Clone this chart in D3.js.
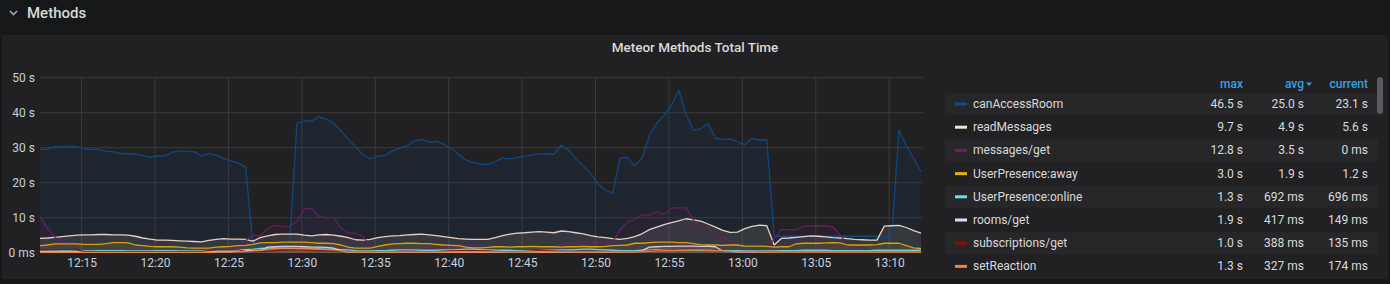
<!DOCTYPE html>
<html>
<head>
<meta charset="utf-8">
<script src="https://cdn.jsdelivr.net/npm/d3@7"></script>
<style>
  html, body { margin: 0; padding: 0; background: #161719; }
  svg { display: block; font-family: Roboto, "Noto Sans", sans-serif; }
</style>
</head>
<body>
<div id="chart"></div>
<script>
const width = 1390;
const height = 284;

// samples every 30 s, starting 12:12:10
const startTime = "12:12:10";
const stepSeconds = 30;

const seriesNames = ["canAccessRoom", "readMessages", "messages/get", "UserPresence:away",
    "UserPresence:online", "rooms/get", "subscriptions/get", "setReaction"];
const seriesColors = ["#0f4a8a", "#F9E2D2", "#6D1F62", "#E5AC0E", "#70DBED", "#DEDAF7", "#890F02", "#EF843C"];

const canAccessRoom = [
    29.5, 29.6, 30.3, 30.2, 30.4, 30.3, 29.7, 29.5, 29.5, 29.0,
    28.8, 28.3, 28.4, 28.2, 27.8, 27.3, 27.7, 27.6, 28.7, 29.0,
    29.0, 28.8, 27.6, 28.4, 27.9, 26.9, 26.3, 25.6, 24.6, 2.4,
    2.4, 2.5, 2.5, 2.6, 2.6, 37.0, 37.7, 37.6, 38.9, 38.1,
    37.0, 34.8, 32.3, 30.3, 28.0, 26.8, 27.6, 27.8, 29.1, 29.9,
    30.6, 31.9, 32.4, 31.5, 31.8, 31.0, 29.8, 28.2, 26.5, 25.8,
    25.3, 25.2, 26.0, 27.0, 26.8, 27.2, 27.6, 27.9, 28.3, 28.2,
    28.2, 30.7, 29.3, 26.8, 24.8, 22.6, 19.8, 17.9, 17.0, 27.0,
    27.2, 24.8, 27.0, 33.5, 37.0, 39.2, 42.1, 46.5, 39.5, 35.0,
    35.4, 36.9, 32.7, 32.4, 32.5, 31.7, 30.9, 32.6, 32.2, 32.2,
    4.7, 4.7, 4.7, 4.7, 4.7, 4.7, 4.7, 4.7, 4.7, 4.7,
    4.7, 4.7, 4.7, 4.7, 4.7, 4.7, 4.7, 35.0, 30.6, 26.9, 23.1
];
const readMessages = [
    4.1, 4.2, 4.4, 4.6, 4.8, 5.0, 5.1, 5.1, 5.2, 5.2,
    5.1, 5.1, 5.0, 4.7, 4.2, 3.9, 3.6, 3.6, 3.5, 3.4,
    3.3, 3.2, 3.1, 3.5, 3.8, 4.0, 3.9, 3.9, 3.8, 3.3,
    4.3, 4.8, 5.2, 5.3, 5.3, 5.3, 5.0, 4.8, 5.1, 5.2,
    5.0, 4.7, 4.3, 3.7, 3.6, 3.8, 4.3, 4.6, 4.8, 4.9,
    5.1, 5.2, 5.3, 5.1, 4.9, 4.6, 4.3, 4.0, 3.9, 3.8,
    3.8, 3.8, 4.3, 4.9, 5.3, 5.6, 5.7, 5.9, 6.0, 5.9,
    5.7, 6.2, 6.0, 5.7, 5.4, 4.9, 4.5, 4.3, 4.0, 3.8,
    4.1, 4.6, 5.4, 6.6, 7.3, 8.0, 8.6, 9.1, 9.7, 9.4,
    9.0, 8.2, 7.3, 6.4, 5.8, 5.9, 6.9, 7.5, 7.9, 7.7,
    2.2, 4.1, 4.2, 4.4, 4.6, 4.8, 4.7, 4.5, 4.3, 4.2,
    4.0, 3.8, 3.7, 3.6, 3.6, 7.6, 7.7, 7.8, 7.2, 6.3, 5.6
];
const messagesGet = [
    10.3, 7.0, 4.5, 3.0, 2.9, 1.0, 0.5, 0.4, 0.4, 0.5,
    0.5, 0.4, 0.4, 0.5, 0.5, 0.4, 0.4, 0.5, 0.5, 0.4,
    0.4, 0.5, 0.5, 0.6, 0.6, 0.8, 1.0, 2.0, 3.5, 5.0,
    4.8, 7.0, 7.8, 7.5, 7.6, 8.9, 12.5, 12.7, 10.3, 10.0,
    10.0, 7.0, 5.7, 5.5, 4.6, 2.0, 0.5, 0.5, 0.6, 0.6,
    0.7, 0.8, 1.0, 1.2, 1.4, 1.6, 2.0, 2.2, 2.2, 2.2,
    2.2, 2.0, 1.8, 1.6, 1.5, 1.5, 1.6, 1.5, 1.5, 1.6,
    1.8, 2.2, 2.5, 2.8, 3.0, 3.0, 3.0, 3.0, 3.1, 6.5,
    8.8, 9.5, 10.8, 10.8, 11.7, 11.0, 12.8, 12.8, 12.8, 9.3,
    7.4, 7.2, 4.6, 4.5, 3.1, 2.5, 0.8, 0.7, 0.7, 0.7,
    4.0, 6.6, 6.6, 6.6, 7.6, 7.7, 7.7, 7.7, 7.4, 5.0,
    2.5, 1.5, 1.3, 0.3, 0.2, 0.2, 0.2, 0.2, 0.2, 0.2, 0
];
const userPresenceAway = [
    2.0, 2.2, 2.5, 2.5, 2.5, 2.5, 2.4, 2.4, 2.4, 2.6,
    2.9, 2.9, 2.8, 2.2, 2.0, 1.8, 1.7, 1.7, 1.7, 1.6,
    1.4, 1.3, 1.3, 1.3, 1.6, 1.7, 1.8, 2.0, 2.1, 2.4,
    2.8, 2.9, 2.9, 3.0, 3.0, 3.0, 3.0, 2.9, 2.7, 2.7,
    2.6, 2.2, 1.6, 1.3, 1.3, 1.3, 1.8, 2.2, 2.5, 2.6,
    2.7, 2.7, 2.6, 2.6, 2.4, 2.2, 2.1, 2.0, 1.6, 1.4,
    1.4, 1.5, 1.7, 1.7, 1.6, 1.7, 1.7, 1.8, 1.7, 1.7,
    1.7, 1.6, 1.7, 1.7, 1.8, 1.7, 1.7, 1.8, 2.0, 2.1,
    2.2, 2.7, 2.7, 2.9, 3.0, 3.0, 3.0, 2.9, 2.9, 2.6,
    2.3, 2.2, 2.2, 2.1, 2.2, 2.2, 1.9, 1.9, 1.9, 1.8,
    1.6, 1.7, 1.7, 2.5, 2.7, 2.7, 2.7, 2.8, 2.9, 2.8,
    2.2, 2.2, 2.2, 2.2, 2.3, 2.7, 2.7, 2.7, 2.0, 1.4, 1.2
];
const userPresenceOnline = [
    0.5, 0.5, 0.6, 0.6, 0.6, 0.5, 0.5, 0.5, 0.6, 0.6,
    0.6, 0.6, 0.5, 0.5, 0.5, 0.5, 0.6, 0.6, 0.6, 0.5,
    0.5, 0.5, 0.5, 0.6, 0.6, 0.6, 0.7, 0.8, 0.9, 1.0,
    1.2, 1.3, 1.3, 1.3, 1.2, 1.2, 1.2, 1.1, 1.1, 1.0,
    1.0, 0.9, 0.8, 0.6, 0.5, 0.5, 0.6, 0.6, 0.7, 0.8,
    0.8, 0.8, 0.7, 0.7, 0.7, 0.8, 0.8, 0.9, 1.0, 1.0,
    0.9, 0.8, 0.7, 0.7, 0.7, 0.6, 0.6, 0.6, 0.6, 0.7,
    0.7, 0.8, 0.8, 0.9, 1.0, 1.0, 0.9, 0.8, 0.7, 0.6,
    0.6, 0.6, 0.7, 0.7, 0.8, 0.8, 0.8, 0.9, 0.8, 0.8,
    0.7, 0.7, 0.6, 0.6, 0.6, 0.6, 0.5, 0.5, 0.5, 0.5,
    0.5, 0.6, 0.6, 0.6, 0.7, 0.7, 0.7, 0.7, 0.6, 0.6,
    0.6, 0.6, 0.6, 0.6, 0.7, 0.7, 0.7, 0.7, 0.7, 0.7, 0.7
];
const roomsGet = [
    0.2, 0.2, 0.2, 0.2, 0.2, 0.2, 0.2, 0.2, 0.2, 0.2,
    0.2, 0.2, 0.2, 0.2, 0.2, 0.2, 0.2, 0.2, 0.2, 0.2,
    0.2, 0.2, 0.2, 0.2, 0.3, 0.3, 0.4, 0.6, 0.6, 0.6,
    0.6, 1.6, 1.7, 1.8, 1.8, 1.8, 1.7, 1.6, 1.6, 1.5,
    1.3, 0.5, 0.2, 0.2, 0.2, 0.2, 0.2, 0.2, 0.2, 0.2,
    0.2, 0.2, 0.2, 0.2, 0.2, 0.2, 0.2, 0.2, 0.2, 0.2,
    0.2, 0.2, 0.2, 0.2, 0.3, 0.3, 0.3, 0.3, 0.2, 0.2,
    0.2, 0.2, 0.2, 0.2, 0.2, 0.2, 0.2, 0.2, 0.2, 0.2,
    0.2, 0.3, 0.6, 1.6, 1.7, 1.8, 1.8, 1.9, 1.9, 1.9,
    1.8, 1.8, 1.7, 0.4, 0.3, 0.2, 0.2, 0.2, 0.2, 0.2,
    0.2, 0.2, 0.2, 0.2, 0.2, 0.2, 0.2, 0.2, 0.2, 0.2,
    0.2, 0.2, 0.2, 0.2, 0.2, 0.2, 0.2, 0.2, 0.2, 0.2, 0.15
];
const subscriptionsGet = [
    0.8, 0.8, 0.8, 0.9, 0.9, 0.8, 0.3, 0.3, 0.3, 0.3,
    0.3, 0.3, 0.3, 0.3, 0.3, 0.3, 0.3, 0.3, 0.3, 0.3,
    0.3, 0.3, 0.4, 0.6, 0.8, 0.8, 0.9, 0.8, 0.4, 0.3,
    0.3, 0.4, 0.6, 0.7, 0.8, 0.8, 0.8, 0.7, 0.6, 0.5,
    0.5, 0.4, 0.3, 0.3, 0.3, 0.3, 0.3, 0.3, 0.3, 0.3,
    0.3, 0.3, 0.3, 0.3, 0.3, 0.4, 0.5, 0.6, 0.6, 0.6,
    0.6, 0.5, 0.4, 0.3, 0.3, 0.3, 0.4, 0.5, 0.6, 0.6,
    0.5, 0.4, 0.3, 0.3, 0.3, 0.3, 0.3, 0.3, 0.3, 0.3,
    0.3, 0.3, 0.4, 0.5, 0.6, 0.7, 0.8, 0.9, 1.0, 1.0,
    0.9, 0.8, 0.6, 0.4, 0.3, 0.3, 0.3, 0.3, 0.3, 0.3,
    0.2, 0.2, 0.2, 0.2, 0.2, 0.2, 0.2, 0.2, 0.2, 0.2,
    0.2, 0.2, 0.2, 0.2, 0.2, 0.2, 0.2, 0.2, 0.2, 0.2, 0.135
];
const setReaction = [
    0.1, 0.1, 0.1, 0.1, 0.1, 0.1, 0.1, 0.1, 0.1, 0.1,
    0.1, 0.1, 0.1, 0.1, 0.1, 0.1, 0.1, 0.1, 0.1, 0.1,
    0.1, 0.1, 0.1, 0.1, 0.2, 0.2, 0.2, 0.3, 0.4, 0.5,
    0.7, 1.0, 1.2, 1.3, 1.3, 1.2, 1.2, 1.1, 1.0, 0.9,
    0.8, 0.5, 0.2, 0.2, 0.2, 0.2, 0.2, 0.2, 0.2, 0.2,
    0.2, 0.2, 0.2, 0.2, 0.2, 0.2, 0.2, 0.2, 0.2, 0.2,
    0.2, 0.2, 0.2, 0.2, 0.2, 0.2, 0.2, 0.2, 0.2, 0.2,
    0.2, 0.2, 0.2, 0.2, 0.2, 0.2, 0.2, 0.2, 0.2, 0.2,
    0.2, 0.2, 0.3, 0.4, 0.5, 0.6, 0.6, 0.7, 0.7, 0.8,
    0.8, 0.7, 0.6, 0.5, 0.4, 0.3, 0.3, 0.3, 0.2, 0.2,
    0.2, 0.2, 0.2, 0.2, 0.2, 0.2, 0.2, 0.2, 0.2, 0.2,
    0.2, 0.2, 0.2, 0.2, 0.2, 0.2, 0.2, 0.2, 0.2, 0.2, 0.174
];
const seriesValues = [canAccessRoom, readMessages, messagesGet, userPresenceAway,
    userPresenceOnline, roomsGet, subscriptionsGet, setReaction];

const legendMax = ["46.5 s", "9.7 s", "12.8 s", "3.0 s", "1.3 s", "1.9 s", "1.0 s", "1.3 s"];
const legendAvg = ["25.0 s", "4.9 s", "3.5 s", "1.9 s", "692 ms", "417 ms", "388 ms", "327 ms"];
const legendCurrent = ["23.1 s", "5.6 s", "0 ms", "1.2 s", "696 ms", "149 ms", "135 ms", "174 ms"];
const legendHeaders = ["max", "avg", "current"];

const yTicks = [0, 10, 20, 30, 40, 50];

const parseTime = d3.timeParse("%H:%M:%S");
const t0 = parseTime(startTime);
const times = canAccessRoom.map((_, i) => d3.timeSecond.offset(t0, i * stepSeconds));

const svg = d3.select("#chart").append("svg")
    .attr("width", width)
    .attr("height", height);

// row header
svg.append("rect").attr("width", width).attr("height", height).attr("fill", "#161719");
svg.append("path")
    .attr("d", "M10,11 L13.5,14.5 L17,11")
    .attr("fill", "none").attr("stroke", "#9fa7b3").attr("stroke-width", 1.6);
svg.append("text")
    .attr("x", 27).attr("y", 17.5)
    .attr("fill", "#d8d9da").attr("font-size", 15).attr("font-weight", 500)
    .text("Methods");

// panel
svg.append("rect")
    .attr("x", 2).attr("y", 35).attr("width", 1386).attr("height", 244)
    .attr("fill", "#212124");
svg.append("text")
    .attr("x", 695).attr("y", 52)
    .attr("text-anchor", "middle")
    .attr("fill", "#d8d9da").attr("font-size", 13.5).attr("font-weight", 500)
    .text("Meteor Methods Total Time");

const plot = { left: 40, right: 921, gridRight: 923, top: 77.7, bottom: 252.7 };

const xScale = d3.scaleTime()
    .domain([t0, times[times.length - 1]])
    .range([plot.left, plot.right]);
const yScale = d3.scaleLinear()
    .domain([0, 50])
    .range([plot.bottom, plot.top]);

// grid
const xTicks = xScale.ticks(d3.timeMinute.every(5));
svg.append("g").selectAll("line").data(xTicks).join("line")
    .attr("x1", (d) => xScale(d)).attr("x2", (d) => xScale(d))
    .attr("y1", plot.top).attr("y2", plot.bottom)
    .attr("stroke", "#3a3a3d").attr("stroke-width", 1);
svg.append("g").selectAll("line").data(yTicks).join("line")
    .attr("x1", plot.left).attr("x2", plot.gridRight)
    .attr("y1", (d) => yScale(d)).attr("y2", (d) => yScale(d))
    .attr("stroke", "#3a3a3d").attr("stroke-width", 1);

// axes labels
const yAxis = svg.append("g")
    .attr("transform", `translate(${plot.left},0)`)
    .call(d3.axisLeft(yScale).tickValues(yTicks).tickSize(0).tickPadding(5)
        .tickFormat((d) => d === 0 ? "0 ms" : `${d} s`));
yAxis.select(".domain").remove();
yAxis.selectAll("text").attr("fill", "#c7d0d9").attr("font-size", 12)
    .attr("font-family", "Roboto, sans-serif");

const xAxis = svg.append("g")
    .attr("transform", `translate(0,${plot.bottom})`)
    .call(d3.axisBottom(xScale).ticks(d3.timeMinute.every(5)).tickSize(0).tickPadding(6)
        .tickFormat(d3.timeFormat("%H:%M")));
xAxis.select(".domain").remove();
xAxis.selectAll("text").attr("fill", "#c7d0d9").attr("font-size", 12)
    .attr("font-family", "Roboto, sans-serif");

// series
const area = d3.area()
    .x((d, i) => xScale(times[i]))
    .y0(yScale(0))
    .y1((d) => yScale(d));
const line = d3.line()
    .x((d, i) => xScale(times[i]))
    .y((d) => yScale(d));

const seriesGroup = svg.append("g");
seriesValues.forEach((values, k) => {
    seriesGroup.append("path")
        .datum(values)
        .attr("fill", seriesColors[k])
        .attr("fill-opacity", 0.1)
        .attr("d", area);
});
seriesValues.forEach((values, k) => {
    seriesGroup.append("path")
        .datum(values)
        .attr("fill", "none")
        .attr("stroke", seriesColors[k])
        .attr("stroke-opacity", 0.9)
        .attr("stroke-width", 1.3)
        .attr("stroke-linejoin", "round")
        .attr("d", line);
});

// legend table
const colRight = [1243, 1304, 1368];
const legend = svg.append("g");
legend.selectAll("text.head").data(legendHeaders).join("text")
    .attr("class", "head")
    .attr("x", (d, i) => colRight[i])
    .attr("y", 88)
    .attr("text-anchor", "end")
    .attr("fill", "#33a2e5").attr("font-size", 12).attr("font-weight", 500)
    .text((d) => d);
legend.append("path")
    .attr("d", `M${colRight[1] + 2},82.5 L${colRight[1] + 8},82.5 L${colRight[1] + 5},86 Z`)
    .attr("fill", "#33a2e5");

const rowY = (i) => 104 + i * 23.2;
const rows = legend.selectAll("g.row").data(seriesNames).join("g")
    .attr("class", "row")
    .attr("transform", (d, i) => `translate(0,${rowY(i)})`);
rows.append("rect")
    .attr("x", 945).attr("y", -11).attr("width", 433).attr("height", 22)
    .attr("fill", (d, i) => i % 2 === 0 ? "#27272a" : "none");
rows.append("rect")
    .attr("x", 955).attr("y", -1.5).attr("width", 12).attr("height", 3)
    .attr("fill", (d, i) => seriesColors[i]);
rows.append("text")
    .attr("x", 973).attr("y", 4)
    .attr("fill", "#d8d9da").attr("font-size", 12)
    .text((d) => d);
[legendMax, legendAvg, legendCurrent].forEach((col, c) => {
    rows.append("text")
        .attr("x", colRight[c]).attr("y", 4)
        .attr("text-anchor", "end")
        .attr("fill", "#d8d9da").attr("font-size", 12)
        .text((d, i) => col[i]);
});

// scrollbar
svg.append("rect")
    .attr("x", 1377).attr("y", 77).attr("width", 6).attr("height", 37).attr("rx", 3)
    .attr("fill", "#5a5b5e");
</script>
</body>
</html>
